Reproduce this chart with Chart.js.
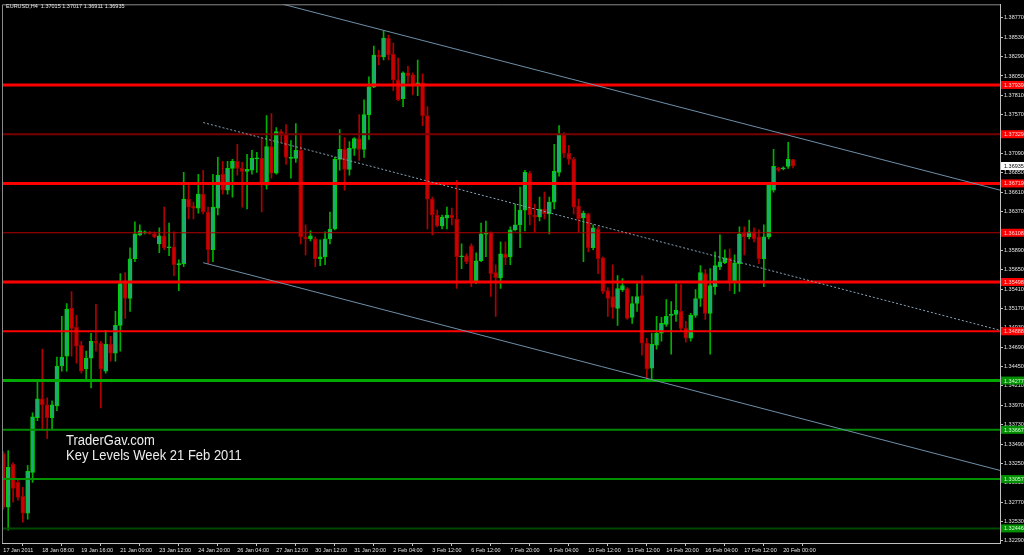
<!DOCTYPE html>
<html>
<head>
<meta charset="utf-8">
<script src="https://cdn.jsdelivr.net/npm/chart.js@4.4.0/dist/chart.umd.min.js"></script>
<style>
  html, body { margin: 0; padding: 0; background: #000; }
  #wrap { width: 1024px; height: 555px; }
</style>
</head>
<body>
<div id="wrap"><canvas id="chart" width="1024" height="555"></canvas></div>
<script>
// EURUSD H4, 17 Jan - 20 Feb 2011
const symbolInfo = 'EURUSD,H4  1.37015 1.37017 1.36911 1.36935';
const noteLines = ['TraderGav.com', 'Key Levels Week 21 Feb 2011'];

// one label every 8 bars
const xLabels = ['17 Jan 2011', '18 Jan 08:00', '19 Jan 16:00', '21 Jan 00:00', '23 Jan 12:00',
  '24 Jan 20:00', '26 Jan 04:00', '27 Jan 12:00', '30 Jan 12:00', '31 Jan 20:00', '2 Feb 04:00',
  '3 Feb 12:00', '6 Feb 12:00', '7 Feb 20:00', '9 Feb 04:00', '10 Feb 12:00', '13 Feb 12:00',
  '14 Feb 20:00', '16 Feb 04:00', '17 Feb 12:00', '20 Feb 00:00'];
const barsPerLabel = 8;

const priceTicks = [1.32290, 1.32530, 1.32770, 1.33010, 1.33250, 1.33490, 1.33730, 1.33970,
  1.34210, 1.34450, 1.34690, 1.34930, 1.35170, 1.35410, 1.35650, 1.35890, 1.36130, 1.36370,
  1.36610, 1.36850, 1.37090, 1.37330, 1.37570, 1.37810, 1.38050, 1.38290, 1.38530, 1.38770];

const opens = [
  1.33373, 1.32708, 1.33238, 1.33016, 1.32844, 1.32635, 1.33139, 1.33816, 1.34050, 1.33976,
  1.33816, 1.33964, 1.34457, 1.34580, 1.35171, 1.34937, 1.34715, 1.34420, 1.34555, 1.34764,
  1.34740, 1.34395, 1.34727, 1.34617, 1.34961, 1.35491, 1.35294, 1.35786, 1.36082, 1.36106,
  1.36110, 1.36094, 1.35971, 1.36069, 1.35922, 1.35934, 1.35712, 1.35725, 1.36525, 1.36439,
  1.36414, 1.36586, 1.36365, 1.35897, 1.36414, 1.36833, 1.36636, 1.36906, 1.36993, 1.36906,
  1.36869, 1.36882, 1.37024, 1.37030, 1.36697, 1.37177, 1.36845, 1.37362, 1.37325, 1.37030,
  1.37030, 1.37128, 1.36057, 1.36032, 1.36032, 1.35786, 1.35811, 1.36032, 1.36155, 1.37017,
  1.37140, 1.36894, 1.37153, 1.37276, 1.37140, 1.37571, 1.37916, 1.38310, 1.38285, 1.38519,
  1.38322, 1.38002, 1.37768, 1.38088, 1.38064, 1.37941, 1.37965, 1.37559, 1.36525, 1.36328,
  1.36192, 1.36291, 1.36328, 1.36279, 1.35811, 1.35823, 1.35946, 1.35515, 1.35761, 1.36090,
  1.36106, 1.35614, 1.35552, 1.35848, 1.35811, 1.36143, 1.36205, 1.36389, 1.36845, 1.36328,
  1.36303, 1.36402, 1.36340, 1.36488, 1.36857, 1.37325, 1.37091, 1.37017, 1.36439, 1.36291,
  1.36340, 1.35922, 1.36155, 1.35798, 1.35392, 1.35318, 1.35171, 1.35404, 1.35417, 1.35060,
  1.35232, 1.35331, 1.34740, 1.34432, 1.34715, 1.34863, 1.34974, 1.35084, 1.35097, 1.35134,
  1.34924, 1.34801, 1.35084, 1.35294, 1.35601, 1.35109, 1.35441, 1.35688, 1.35737, 1.35798,
  1.35515, 1.35725, 1.36106, 1.36057, 1.36119, 1.36057, 1.35786, 1.36057, 1.36636, 1.36906,
  1.36900, 1.36931, 1.37015];
const highs = [
  1.33398, 1.33410, 1.33262, 1.33053, 1.32955, 1.33225, 1.33878, 1.34272, 1.34666, 1.34062,
  1.34026, 1.34567, 1.35072, 1.35232, 1.35380, 1.35084, 1.34764, 1.34641, 1.34863, 1.35220,
  1.34764, 1.34900, 1.34826, 1.35134, 1.35601, 1.35614, 1.35922, 1.36242, 1.36205, 1.36131,
  1.36125, 1.36119, 1.36168, 1.36426, 1.36229, 1.36119, 1.35774, 1.36857, 1.36709, 1.36488,
  1.36833, 1.36882, 1.36426, 1.36833, 1.37042, 1.36993, 1.36993, 1.37017, 1.37202, 1.36980,
  1.37079, 1.37128, 1.37103, 1.37288, 1.37559, 1.37584, 1.37411, 1.37387, 1.37448, 1.37251,
  1.37460, 1.37337, 1.36205, 1.36131, 1.36057, 1.36020, 1.36119, 1.36365, 1.37042, 1.37387,
  1.37288, 1.37239, 1.37288, 1.37571, 1.37756, 1.38039, 1.38421, 1.38371, 1.38605, 1.38556,
  1.38458, 1.38273, 1.38101, 1.38174, 1.38088, 1.38248, 1.38076, 1.37670, 1.36549, 1.36389,
  1.36328, 1.36426, 1.36414, 1.36759, 1.35971, 1.35848, 1.35971, 1.35860, 1.36229, 1.36254,
  1.36119, 1.35712, 1.35996, 1.35996, 1.36180, 1.36463, 1.36673, 1.36882, 1.36869, 1.36463,
  1.36549, 1.36611, 1.36549, 1.37202, 1.37436, 1.37350, 1.37190, 1.37042, 1.36525, 1.36377,
  1.36352, 1.36205, 1.36180, 1.35811, 1.35429, 1.35712, 1.35577, 1.35540, 1.35429, 1.35318,
  1.35478, 1.35577, 1.34801, 1.34863, 1.35072, 1.35060, 1.35281, 1.35257, 1.35478, 1.35466,
  1.35011, 1.35109, 1.35404, 1.35700, 1.35651, 1.35663, 1.35872, 1.36082, 1.35897, 1.35909,
  1.35835, 1.36180, 1.36180, 1.36266, 1.36168, 1.36143, 1.36205, 1.36722, 1.37140, 1.36919,
  1.36925, 1.37227, 1.37017];
const lows = [
  1.32684, 1.32425, 1.32770, 1.32795, 1.32524, 1.32561, 1.33016, 1.33779, 1.33681, 1.33558,
  1.33681, 1.33903, 1.34395, 1.34395, 1.34580, 1.34493, 1.34370, 1.34296, 1.34186, 1.34641,
  1.33939, 1.34370, 1.34518, 1.34518, 1.34641, 1.35047, 1.35134, 1.35749, 1.36069, 1.36094,
  1.36090, 1.36045, 1.35860, 1.35897, 1.35823, 1.35577, 1.35392, 1.35688, 1.36279, 1.36279,
  1.36352, 1.36340, 1.35725, 1.35749, 1.36328, 1.36586, 1.36586, 1.36549, 1.36820, 1.36426,
  1.36402, 1.36833, 1.36857, 1.36365, 1.36648, 1.36783, 1.36833, 1.37227, 1.36956, 1.36783,
  1.36980, 1.35971, 1.35835, 1.36008, 1.35688, 1.35700, 1.35712, 1.35971, 1.36143, 1.36882,
  1.36636, 1.36820, 1.37066, 1.37005, 1.37042, 1.37263, 1.37904, 1.38187, 1.38248, 1.38248,
  1.37867, 1.37744, 1.37670, 1.37965, 1.37817, 1.37805, 1.37436, 1.36155, 1.36082, 1.36180,
  1.36155, 1.36155, 1.36205, 1.35417, 1.35663, 1.35725, 1.35441, 1.35478, 1.35749, 1.35811,
  1.35318, 1.35072, 1.35417, 1.35712, 1.35712, 1.36131, 1.35922, 1.36131, 1.36205, 1.36119,
  1.36254, 1.36279, 1.36094, 1.36402, 1.36808, 1.37042, 1.36956, 1.36340, 1.36119, 1.35749,
  1.35872, 1.35897, 1.35601, 1.35355, 1.35072, 1.35047, 1.34961, 1.35380, 1.35035, 1.34986,
  1.35134, 1.34592, 1.34296, 1.34272, 1.34666, 1.34764, 1.34949, 1.34604, 1.35011, 1.34887,
  1.34752, 1.34764, 1.35060, 1.35195, 1.35035, 1.34604, 1.35343, 1.35651, 1.35725, 1.35392,
  1.35355, 1.35380, 1.35835, 1.36032, 1.35996, 1.35725, 1.35441, 1.36032, 1.36611, 1.36869,
  1.36885, 1.36906, 1.36911];
const closes = [
  1.32708, 1.33201, 1.32942, 1.32831, 1.32635, 1.33152, 1.33829, 1.34050, 1.33976, 1.33816,
  1.33976, 1.34457, 1.34567, 1.35158, 1.34924, 1.34703, 1.34395, 1.34555, 1.34764, 1.34740,
  1.34420, 1.34727, 1.34617, 1.34961, 1.35478, 1.35294, 1.35786, 1.36094, 1.36131, 1.36119,
  1.36100, 1.36057, 1.36069, 1.35922, 1.35934, 1.35712, 1.35725, 1.36525, 1.36426, 1.36414,
  1.36586, 1.36365, 1.35897, 1.36426, 1.36820, 1.36636, 1.36906, 1.36993, 1.36906, 1.36869,
  1.36894, 1.37030, 1.37030, 1.36697, 1.37177, 1.36845, 1.37362, 1.37313, 1.37042, 1.37042,
  1.37128, 1.36057, 1.36032, 1.36069, 1.35786, 1.35811, 1.36032, 1.36155, 1.37017, 1.37140,
  1.36894, 1.37153, 1.37276, 1.37140, 1.37571, 1.37916, 1.38310, 1.38285, 1.38519, 1.38310,
  1.38002, 1.37756, 1.38088, 1.38051, 1.37941, 1.37965, 1.37559, 1.36525, 1.36328, 1.36192,
  1.36303, 1.36328, 1.36291, 1.35811, 1.35823, 1.35749, 1.35515, 1.35761, 1.36094, 1.36100,
  1.35601, 1.35552, 1.35848, 1.35798, 1.36143, 1.36205, 1.36389, 1.36857, 1.36328, 1.36303,
  1.36402, 1.36340, 1.36488, 1.36869, 1.37325, 1.37091, 1.37017, 1.36426, 1.36279, 1.36352,
  1.35922, 1.36168, 1.35786, 1.35380, 1.35294, 1.35183, 1.35417, 1.35454, 1.35047, 1.35232,
  1.35318, 1.34740, 1.34420, 1.34727, 1.34863, 1.34986, 1.35072, 1.35097, 1.35146, 1.34924,
  1.34801, 1.35084, 1.35294, 1.35614, 1.35109, 1.35454, 1.35700, 1.35749, 1.35798, 1.35515,
  1.35737, 1.36094, 1.36057, 1.36119, 1.36032, 1.35786, 1.36057, 1.36709, 1.36931, 1.36882,
  1.36906, 1.37017, 1.36935];

// horizontal key levels (top to bottom)
const levels = [1.37939, 1.37329, 1.36719, 1.36108, 1.35498, 1.34888, 1.34277, 1.33667, 1.33057, 1.32446];
const lastPrice = 1.36935;

// trend channel anchors: [bar index, price]
const channelIdx = [41, 204.45];
const upperIdx = [57.4, 204.45];
const upperLine = [1.38938, 1.36636];
const middleLine = [1.37473, 1.34900];
const lowerLine = [1.35737, 1.33164];

// styling
const levelStyle = [
  { color: '#ff0000', width: 3, box: '#ff0000' },
  { color: '#7a0000', width: 2, box: '#ff0000' },
  { color: '#ff0000', width: 3, box: '#ff0000' },
  { color: '#b40000', width: 1, box: '#ff0000' },
  { color: '#ff0000', width: 3, box: '#ff0000' },
  { color: '#ff0000', width: 2, box: '#ff0000' },
  { color: '#00a800', width: 3, box: '#009000' },
  { color: '#008800', width: 2, box: '#009000' },
  { color: '#009000', width: 2, box: '#009000' },
  { color: '#004a00', width: 2, box: '#009000' }
];
const X_MIN = -0.27, X_MAX = 204.45;
const Y_MIN = 1.32265, Y_MAX = 1.38938;
const smallFont = 'Liberation Sans, Arial, sans-serif';
const axisFont = { family: smallFont, size: 5.5 };
const axisText = '#e4e4e4';
const axisLine = '#c0c0c0';

const isBull = opens.map((o, i) => closes[i] >= o);

const datasets = [];

// key level lines
levels.forEach((lv, k) => {
  datasets.push({
    type: 'line',
    data: [{ x: X_MIN, y: lv }, { x: X_MAX, y: lv }],
    borderColor: levelStyle[k].color,
    borderWidth: levelStyle[k].width,
    pointRadius: 0,
    order: 1
  });
});

// channel
datasets.push({
  type: 'line',
  data: [{ x: upperIdx[0], y: upperLine[0] }, { x: upperIdx[1], y: upperLine[1] }],
  borderColor: '#6e8fa8', borderWidth: 1, pointRadius: 0, order: 0
});
datasets.push({
  type: 'line',
  data: [{ x: channelIdx[0], y: middleLine[0] }, { x: channelIdx[1], y: middleLine[1] }],
  borderColor: '#86a2b8', borderWidth: 1, borderDash: [2, 2], pointRadius: 0, order: 0
});
datasets.push({
  type: 'line',
  data: [{ x: channelIdx[0], y: lowerLine[0] }, { x: channelIdx[1], y: lowerLine[1] }],
  borderColor: '#6e8fa8', borderWidth: 1, pointRadius: 0, order: 0
});

// candles: wicks then bodies
datasets.push({
  type: 'bar',
  data: lows.map((l, i) => ({ x: i, y: [l, highs[i]] })),
  backgroundColor: isBull.map(b => b ? '#00b000' : '#b00000'),
  barThickness: 1,
  grouped: false,
  order: 4
});
datasets.push({
  type: 'bar',
  data: opens.map((o, i) => ({ x: i, y: [o, closes[i]] })),
  backgroundColor: isBull.map(b => b ? '#1fa878' : '#cc0000'),
  borderColor: isBull.map(b => b ? '#00d000' : '#9a0000'),
  borderWidth: 1,
  borderSkipped: false,
  barThickness: 4,
  minBarLength: 1,
  grouped: false,
  order: 3
});

const decor = {
  id: 'decor',
  beforeDraw(chart) {
    const c = chart.ctx;
    c.save();
    c.fillStyle = '#000';
    c.fillRect(0, 0, chart.width, chart.height);
    c.restore();
  },
  afterDraw(chart) {
    const c = chart.ctx;
    const a = chart.chartArea;
    const y = chart.scales.y;
    c.save();
    // left / top frame
    c.strokeStyle = '#8a8a8a';
    c.lineWidth = 1;
    c.beginPath();
    c.moveTo(a.left + 0.5, a.bottom);
    c.lineTo(a.left + 0.5, a.top + 0.5);
    c.lineTo(a.right, a.top + 0.5);
    c.stroke();

    // level price boxes on the axis
    c.font = '5.5px ' + smallFont;
    c.textBaseline = 'middle';
    c.textAlign = 'left';
    levels.forEach((lv, k) => {
      const py = y.getPixelForValue(lv);
      c.fillStyle = levelStyle[k].box;
      c.fillRect(a.right + 1, py - 4, chart.width - a.right - 1, 8);
      c.fillStyle = k < 6 ? '#ffd6d6' : '#d6ffd6';
      c.fillText(lv.toFixed(5), a.right + 4, py + 0.5);
    });
    const lp = y.getPixelForValue(lastPrice);
    c.fillStyle = '#ffffff';
    c.fillRect(a.right + 1, lp - 4, chart.width - a.right - 1, 8);
    c.fillStyle = '#000000';
    c.fillText(lastPrice.toFixed(5), a.right + 4, lp + 0.5);

    // header
    c.fillStyle = '#e8e8e8';
    c.fillText(symbolInfo, 6, 6);

    // watermark text
    c.font = '13px Liberation Sans, Arial, sans-serif';
    c.textBaseline = 'alphabetic';
    c.fillStyle = '#ececec';
    c.translate(66, 0);
    c.scale(1, 1.12);
    c.fillText(noteLines[0], 0, 445 / 1.12);
    c.fillText(noteLines[1], 0, 460 / 1.12);
    c.restore();
  }
};

new Chart(document.getElementById('chart').getContext('2d'), {
  type: 'bar',
  data: { datasets },
  options: {
    responsive: false,
    animation: false,
    events: [],
    layout: { padding: { left: 2, top: 1, right: 0, bottom: 0 } },
    plugins: { legend: { display: false }, tooltip: { enabled: false } },
    scales: {
      x: {
        type: 'linear',
        min: X_MIN,
        max: X_MAX,
        offset: false,
        afterBuildTicks: s => { s.ticks = xLabels.map((_, k) => ({ value: k * barsPerLabel })); },
        afterFit: s => { s.height = 12; },
        ticks: {
          autoSkip: false, maxRotation: 0, align: 'start', padding: 1,
          color: axisText, font: axisFont,
          callback: (v, k) => xLabels[k]
        },
        grid: { drawOnChartArea: false, drawTicks: true, tickLength: 3, color: axisLine },
        border: { display: true, color: axisLine }
      },
      y: {
        type: 'linear',
        position: 'right',
        min: Y_MIN,
        max: Y_MAX,
        afterBuildTicks: s => { s.ticks = priceTicks.map(v => ({ value: v })); },
        afterFit: s => { s.width = 24; },
        ticks: {
          autoSkip: false, padding: 1, color: axisText, font: axisFont,
          callback: v => v.toFixed(5)
        },
        grid: { drawOnChartArea: false, drawTicks: true, tickLength: 3, color: axisLine },
        border: { display: true, color: axisLine }
      }
    }
  },
  plugins: [decor]
});
</script>
</body>
</html>
